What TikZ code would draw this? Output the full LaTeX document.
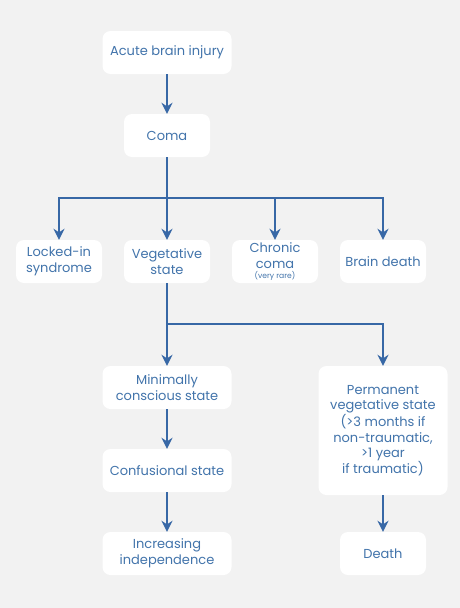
\documentclass[tikz,border=0pt]{standalone}
\usepackage{fontspec}
\setmainfont{Poppins}
\usetikzlibrary{arrows.meta}
\definecolor{bgcol}{HTML}{F2F2F2}
\definecolor{txtcol}{HTML}{4274AB}
\definecolor{linecol}{HTML}{3868A6}
\begin{document}
\begin{tikzpicture}[x=1pt,y=-1pt,
		box/.style={fill=white,rounded corners=8pt,minimum width=86pt,minimum height=43pt,
			inner sep=2pt,align=center,text=txtcol,font=\fontsize{13}{15.6}\selectfont},
		widebox/.style={box,minimum width=129pt},
		link/.style={draw=linecol,line width=2.2pt},
		arr/.style={link,-{Stealth[length=11pt,width=11pt]}}]
	\fill[bgcol] (0,0) rectangle (460,608);
	\useasboundingbox (0,0) rectangle (460,608);

	% top of the chart
	\node[widebox] (inj) at (167,52.5) {Acute brain injury};
	\node[box] (coma) at (167,135.5) {Coma};

	% second row
	\node[box] (lock) at (59,261.5) {Locked-in\\syndrome};
	\node[box] (veg) at (167,261.5) {Vegetative\\state};
	\node[box] (chron) at (275,261.5) {Chronic\\coma\\[-6pt]{\fontsize{7.6}{8}\selectfont (very rare)}};
	\node[box] (bd) at (383,261.5) {Brain death};

	% below vegetative state
	\node[widebox] (mcs) at (167,387.5) {Minimally\\conscious state};
	\node[widebox,minimum height=129pt] (pvs) at (383,430.5) {Permanent\\vegetative state\\(>3 months if\\non-traumatic,\\>1 year\\if traumatic)};
	\node[widebox] (conf) at (167,470.5) {Confusional state};
	\node[widebox] (indep) at (167,553.5) {Increasing\\independence};
	\node[box] (death) at (383,553.5) {Death};

	\coordinate (split1) at (167,198);
	\coordinate (split2) at (167,324);

	\draw[arr] (inj) -- (coma);
	\draw[link] (coma) -- (split1);
	\foreach \n in {lock,veg,chron,bd} {
		\draw[arr] (split1) -| (\n);
	}
	\draw[link] (veg) -- (split2);
	\foreach \n in {mcs,pvs} {
		\draw[arr] (split2) -| (\n.north);
	}
	\draw[arr] (mcs) -- (conf);
	\draw[arr] (conf) -- (indep);
	\draw[arr] (pvs) -- (death);
\end{tikzpicture}
\end{document}
